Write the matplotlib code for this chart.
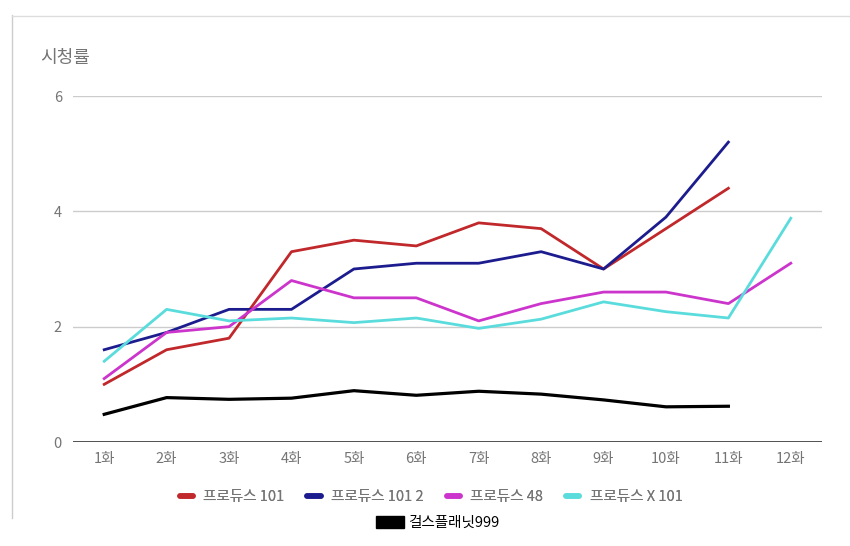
import matplotlib
matplotlib.use("Agg")
import matplotlib.pyplot as plt
from matplotlib.lines import Line2D
from matplotlib.patches import Patch

plt.rcParams['font.family'] = ['Noto Sans CJK KR', 'DejaVu Sans']

episodes = ['1화', '2화', '3화', '4화', '5화', '6화', '7화', '8화', '9화', '10화', '11화', '12화']

produce_101 = [1.0, 1.6, 1.8, 3.3, 3.5, 3.4, 3.8, 3.7, 3.0, 3.7, 4.4]
produce_101_2 = [1.6, 1.9, 2.3, 2.3, 3.0, 3.1, 3.1, 3.3, 3.0, 3.9, 5.2]
produce_48 = [1.1, 1.9, 2.0, 2.8, 2.5, 2.5, 2.1, 2.4, 2.6, 2.6, 2.4, 3.1]
produce_x_101 = [1.4, 2.3, 2.1, 2.15, 2.07, 2.15, 1.97, 2.13, 2.43, 2.26, 2.15, 3.88]
girls_planet = [0.48, 0.77, 0.74, 0.76, 0.89, 0.81, 0.88, 0.83, 0.73, 0.61, 0.62]

series_names = ['프로듀스 101', '프로듀스 101 2', '프로듀스 48', '프로듀스 X 101']
series_colors = ['#c0282b', '#1c1c8f', '#cc35cc', '#5bdcdc']
gray = '#757575'

fig = plt.figure(figsize=(8.5, 5.46), dpi=100)
ax = fig.add_axes([73 / 850, 1 - 442 / 546, 749 / 850, 346 / 546])

x = list(range(1, 13))
all_series = [produce_101, produce_101_2, produce_48, produce_x_101]
handles = []
for vals, name, color in zip(all_series, series_names, series_colors):
    ax.plot(x[:len(vals)], vals, color=color, lw=2, solid_joinstyle='round')
    handles.append(Line2D([], [], color=color, lw=4, solid_capstyle='round', label=name))

ax.plot(x[:len(girls_planet)], girls_planet, color='black', lw=2.3)

ax.set_xlim(0.5, 12.5)
ax.set_ylim(0, 6)
ax.set_yticks([0, 2, 4, 6])
ax.set_xticks(x)
ax.set_xticklabels(episodes)
ax.grid(axis='y', color='#cccccc', lw=1)
ax.set_axisbelow(True)
for side in ['top', 'right', 'left', 'bottom']:
    ax.spines[side].set_visible(False)
ax.axhline(0, color='#444444', lw=1.3)
ax.tick_params(length=0, colors=gray, labelsize=10.5)
ax.tick_params(axis='y', pad=8)
ax.tick_params(axis='x', pad=7)

fig.text(40 / 850, 1 - 58 / 546, '시청률', color=gray, fontsize=13, va='center', ha='left')

leg1 = fig.legend(handles=handles, loc='center', bbox_to_anchor=(431 / 850, 1 - 497 / 546),
                  ncol=4, frameon=False, fontsize=10.5, handlelength=0.9, columnspacing=1.6,
                  handletextpad=0.7, labelcolor=gray)
fig.add_artist(leg1)
black_patch = Patch(facecolor='black', edgecolor='black', label='걸스플래닛999')
fig.legend(handles=[black_patch], loc='center', bbox_to_anchor=(438 / 850, 1 - 523 / 546),
           frameon=False, fontsize=10.5, handlelength=1.9, handleheight=0.8, handletextpad=0.3)

# screenshot frame lines
fig.add_artist(Line2D([12 / 850, 12 / 850], [1 - 15 / 546, 1 - 518 / 546], color='#cccccc', lw=1))
fig.add_artist(Line2D([12 / 850, 1.0], [1 - 16 / 546, 1 - 16 / 546], color='#dddddd', lw=1))

fig.savefig('out.png', dpi=100)
